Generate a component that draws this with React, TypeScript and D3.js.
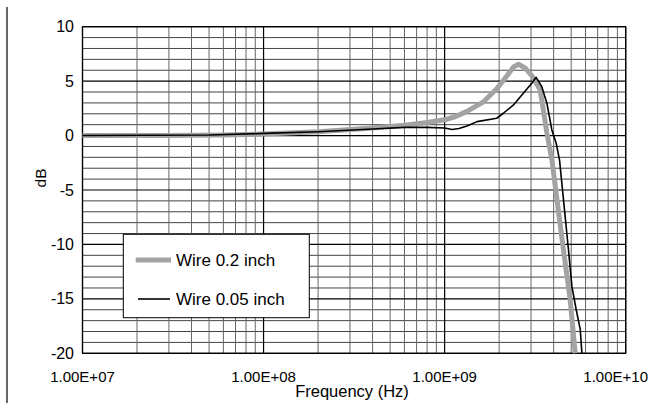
import React from "react";
import * as d3 from "d3";

const grayFreq = [1e7, 3e7, 6e7, 1e8, 2e8, 4e8, 6e8, 8e8, 1e9, 1.15e9, 1.32e9, 1.64e9, 1.94e9, 2.21e9, 2.4e9, 2.56e9, 2.79e9, 3.03e9, 3.37e9, 3.67e9, 3.91e9, 4.53e9, 4.93e9, 5.26e9];
const grayDb = [0, 0, 0.05, 0.15, 0.35, 0.7, 0.95, 1.2, 1.45, 1.75, 2.2, 3.1, 4.3, 5.5, 6.3, 6.55, 6.2, 5.5, 4.2, 0.25, -2.2, -10.5, -15, -20];

const blackFreq = [1e7, 5e7, 1e8, 2e8, 4e8, 6e8, 8e8, 1e9, 1.1e9, 1.2e9, 1.33e9, 1.51e9, 1.94e9, 2.11e9, 2.4e9, 2.72e9, 3.03e9, 3.2e9, 3.44e9, 3.67e9, 3.91e9, 4.13e9, 4.31e9, 4.83e9, 5.05e9, 5.33e9, 5.61e9, 5.73e9];
const blackDb = [0, 0.05, 0.2, 0.35, 0.6, 0.75, 0.75, 0.7, 0.55, 0.65, 0.88, 1.28, 1.59, 2.05, 2.81, 3.88, 4.8, 5.35, 4.49, 2.97, 0.52, -0.7, -2.24, -10.5, -13.9, -16, -17.8, -20];

const xTickValues = [1e7, 1e8, 1e9, 1e10];
const xTickLabels = ["1.00E+07", "1.00E+08", "1.00E+09", "1.00E+10"];
const yTickValues = [10, 5, 0, -5, -10, -15, -20];
const seriesNames = ["Wire 0.2 inch", "Wire 0.05 inch"];

const FONT = "'Liberation Sans', Arial, sans-serif";

export default function App() {
  const W = 652, H = 410;
  const left = 82.5, right = 625.7, top = 26.7, bottom = 353.3;
  const x = d3.scaleLog().domain([1e7, 1e10]).range([left, right]);
  const y = d3.scaleLinear().domain([-20, 10]).range([bottom, top]);

  const minorX: number[] = [];
  for (let e = 7; e < 10; e++) for (let m = 2; m <= 9; m++) minorX.push(m * Math.pow(10, e));
  const minorY = d3.range(-20, 11, 1).filter((v) => v % 5 !== 0);

  const line = d3.line<[number, number]>().x((d) => x(d[0])).y((d) => y(d[1]));
  const grayPts = grayFreq.map((f, i) => [f, grayDb[i]] as [number, number]);
  const blackPts = blackFreq.map((f, i) => [f, blackDb[i]] as [number, number]);

  return (
    <svg width={W} height={H} style={{ position: "absolute", left: 0, top: 0, background: "#fff" }} fontFamily={FONT}>
      <rect x={0} y={0} width={W} height={H} fill="#fff" />
      <line x1={7} x2={7} y1={7} y2={403} stroke="#333" strokeWidth={1.5} />
      {minorY.map((v) => (
        <line key={"my" + v} x1={left} x2={right} y1={y(v)} y2={y(v)} stroke="#444" strokeWidth={1} />
      ))}
      {minorX.map((v) => (
        <line key={"mx" + v} x1={x(v)} x2={x(v)} y1={top} y2={bottom} stroke="#666" strokeWidth={1} />
      ))}
      {yTickValues.map((v) => (
        <line key={"Y" + v} x1={left} x2={right} y1={y(v)} y2={y(v)} stroke="#000" strokeWidth={1.2} />
      ))}
      {xTickValues.map((v) => (
        <line key={"X" + v} x1={x(v)} x2={x(v)} y1={top} y2={bottom} stroke="#000" strokeWidth={1.2} />
      ))}
      <rect x={left} y={top} width={right - left} height={bottom - top} fill="none" stroke="#000" strokeWidth={1.2} />

      <path d={line(grayPts) || ""} fill="none" stroke="#a3a3a3" strokeWidth={5} strokeLinejoin="round" />
      <path d={line(blackPts) || ""} fill="none" stroke="#000" strokeWidth={1.6} strokeLinejoin="round" />

      {yTickValues.map((v) => (
        <text key={"yl" + v} x={74} y={y(v)} textAnchor="end" dominantBaseline="central" fontSize={16} fill="#000">
          {v}
        </text>
      ))}
      {xTickValues.map((v, i) => (
        <text
          key={"xl" + v}
          x={i === xTickValues.length - 1 ? 648 : x(v)}
          y={381.5}
          textAnchor={i === xTickValues.length - 1 ? "end" : "middle"}
          fontSize={15}
          fill="#000"
        >
          {xTickLabels[i]}
        </text>
      ))}
      <text x={352} y={397} textAnchor="middle" fontSize={16.5} fill="#000">Frequency (Hz)</text>
      <text transform="translate(46,178) rotate(-90)" textAnchor="middle" fontSize={15.5} fill="#000">dB</text>

      <g>
        <rect x={123.3} y={234.3} width={186} height={83.4} fill="#fff" stroke="#000" strokeWidth={1} />
        <line x1={135.7} x2={171} y1={260} y2={260} stroke="#a3a3a3" strokeWidth={5} />
        <line x1={138} x2={170} y1={299} y2={299} stroke="#000" strokeWidth={1.6} />
        <text x={176} y={260} dominantBaseline="central" fontSize={17} fill="#000">{seriesNames[0]}</text>
        <text x={176} y={299} dominantBaseline="central" fontSize={17} fill="#000">{seriesNames[1]}</text>
      </g>
    </svg>
  );
}
